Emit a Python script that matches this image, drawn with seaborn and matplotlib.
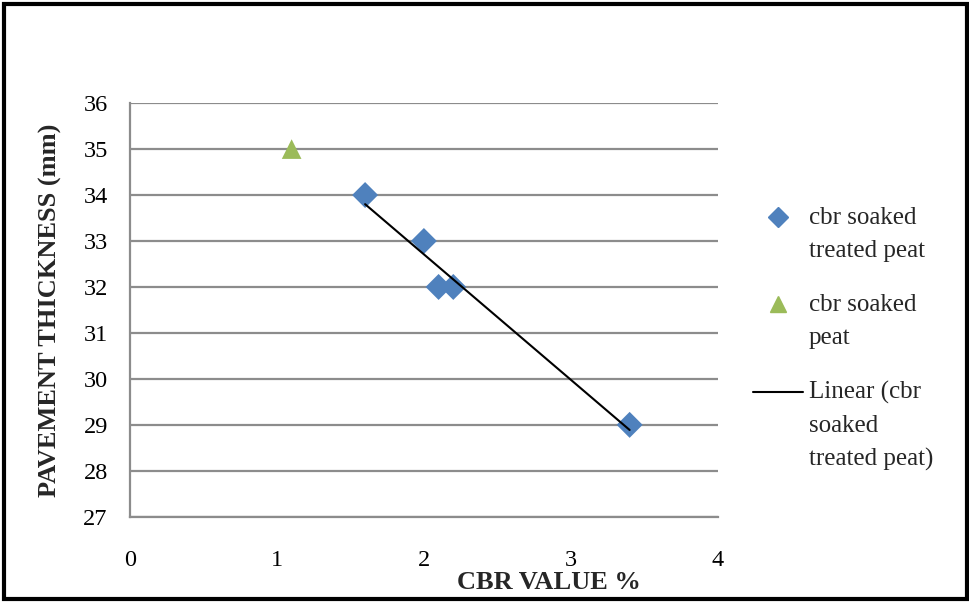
import matplotlib
matplotlib.use("Agg")
import matplotlib.pyplot as plt
import seaborn as sns
import pandas as pd
from matplotlib.patches import Rectangle
from matplotlib.lines import Line2D
from matplotlib.legend_handler import HandlerLine2D

# CBR test results vs. required pavement thickness
treated_cbr = [1.6, 2.0, 2.1, 2.2, 3.4]
treated_thickness = [34, 33, 32, 32, 29]
peat_cbr = [1.1]
peat_thickness = [35]

x_ticks = [0, 1, 2, 3, 4]
y_ticks = [27, 28, 29, 30, 31, 32, 33, 34, 35, 36]

legend_labels = [
    "cbr soaked\ntreated peat",
    "cbr soaked\npeat",
    "Linear (cbr\nsoaked\ntreated peat)",
]

treated = pd.DataFrame({"cbr": treated_cbr, "thickness": treated_thickness})
peat = pd.DataFrame({"cbr": peat_cbr, "thickness": peat_thickness})

sns.set_style("white")
plt.rcParams["font.family"] = ["Liberation Serif", "DejaVu Serif"]

BLUE = "#4F81BD"
GREEN = "#9BBB59"
GRID = "#8c8c8c"
LEG_FS = 18
LINE_SPACING = 1.63


class FirstLineHandler(HandlerLine2D):
    """Places the legend key beside the first line of a wrapped label."""

    def __init__(self, n_lines, gap_pts, **kw):
        super().__init__(**kw)
        self.shift = (n_lines - 1) / 2 * gap_pts

    def create_artists(self, legend, orig_handle, xdescent, ydescent,
                       width, height, fontsize, trans):
        return super().create_artists(legend, orig_handle, xdescent,
                                      ydescent - 2 * self.shift, width,
                                      height, fontsize, trans)


fig = plt.figure(figsize=(9.7, 6.03), dpi=100)
ax = fig.add_axes([0.134, 0.143, 0.606, 0.686])

ax.set_xlim(0, 4)
ax.set_ylim(27, 36)
ax.set_xticks(x_ticks)
ax.set_yticks(y_ticks)

ax.yaxis.grid(True, color=GRID, linewidth=1.6)
ax.xaxis.grid(False)
ax.set_axisbelow(True)

sns.regplot(data=treated, x="cbr", y="thickness", ax=ax, ci=None,
            scatter=False, truncate=True,
            line_kws=dict(color="black", linewidth=1.5, zorder=4))
sns.scatterplot(data=treated, x="cbr", y="thickness", ax=ax, marker="D",
                s=175, color=BLUE, edgecolor="none", zorder=3)
sns.scatterplot(data=peat, x="cbr", y="thickness", ax=ax, marker="^",
                s=200, color=GREEN, edgecolor="none", zorder=3)

for side in ["top", "right"]:
    ax.spines[side].set_visible(False)
for side in ["left", "bottom"]:
    ax.spines[side].set_color(GRID)
    ax.spines[side].set_linewidth(1.6)

ax.tick_params(axis="both", which="major", labelsize=17.5, colors=GRID,
               labelcolor="black", length=5, width=1.4, direction="out")
ax.tick_params(axis="x", pad=19)
ax.tick_params(axis="y", pad=11)

ax.set_xlabel("")
ax.set_ylabel("")
fig.text(0.566, 0.034, "CBR VALUE %", fontsize=19, fontweight="bold",
         ha="center", va="center")
fig.text(0.052, 0.486, "PAVEMENT THICKNESS (mm)", fontsize=19,
         fontweight="bold", rotation=90, ha="center", va="center")

handles = [
    Line2D([], [], marker="D", linestyle="none", color=BLUE, markersize=10.5),
    Line2D([], [], marker="^", linestyle="none", color=GREEN, markersize=12),
    Line2D([], [], color="black", linewidth=1.5),
]
gap_pts = LINE_SPACING * 0.84 * LEG_FS
handler_map = {
    h: FirstLineHandler(lbl.count("\n") + 1, gap_pts)
    for h, lbl in zip(handles, legend_labels)
}
leg = fig.legend(handles, legend_labels, loc="upper left",
                 bbox_to_anchor=(0.776, 0.657), frameon=False,
                 fontsize=LEG_FS, handlelength=2.0, handletextpad=0.25,
                 labelspacing=1.3, borderaxespad=0, borderpad=0,
                 handler_map=handler_map)
for t in leg.get_texts():
    t.set_linespacing(LINE_SPACING)

fig.patches.append(Rectangle((0.004, 0.006), 0.993, 0.988,
                             transform=fig.transFigure, fill=False,
                             edgecolor="black", linewidth=3))

fig.savefig("out.png", dpi=100)
